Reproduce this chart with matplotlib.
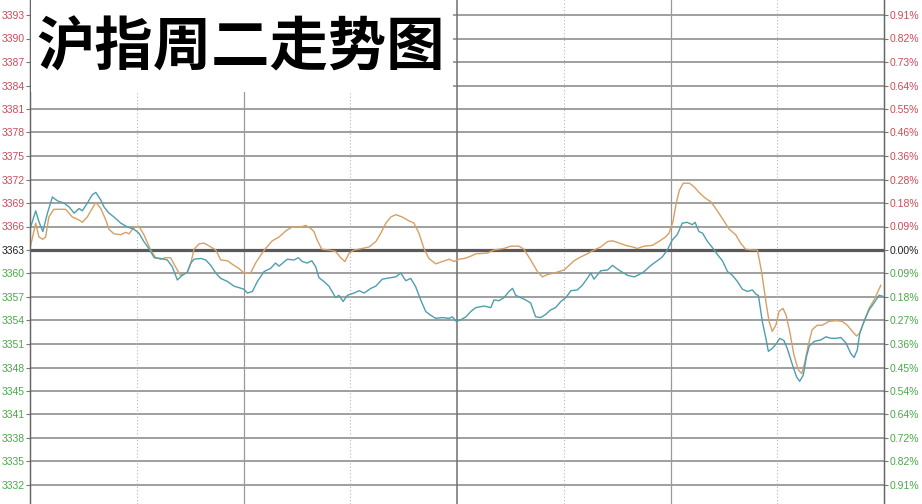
"""
沪指周二分时走势图（指数线 + 均价线）
"""

import numpy as np
import matplotlib
matplotlib.use('Agg')
import matplotlib.pyplot as plt
from matplotlib.patches import Rectangle

# ── data ──────────────────────────────────────────────────────────────────────
BASE = 3363.0          # 昨收
STEP = 3.06            # 每格 ≈ 0.091%

LEFT_LABELS = ['3332', '3335', '3338', '3341', '3345', '3348', '3351', '3354',
               '3357', '3360', '3363', '3366', '3369', '3372', '3375', '3378',
               '3381', '3384', '3387', '3390', '3393']
RIGHT_LABELS = ['0.91%', '0.82%', '0.72%', '0.64%', '0.54%', '0.45%', '0.36%',
                '0.27%', '0.18%', '0.09%', '0.00%', '0.09%', '0.18%', '0.28%',
                '0.36%', '0.46%', '0.55%', '0.64%', '0.73%', '0.82%', '0.91%']

# 指数线（分钟, 点位）
idx_t = [0.2, 1.6, 2.5, 3.6, 4.9, 6.3, 7.7, 9.6, 11.0, 12.4, 13.8, 14.7, 16.1,
         17.5, 18.5, 19.9, 20.8, 22.2, 23.6, 25.5, 27.4, 29.2, 30.6, 32.0,
         33.4, 34.9, 36.7, 38.6, 40.0, 41.4, 42.8, 44.2, 45.2, 46.1, 48.0,
         49.4, 50.8, 52.2, 53.6, 55.5, 57.3, 58.7, 60.1, 61.1, 62.5, 63.9,
         65.8, 67.6, 69.0, 70.0, 72.3, 74.2, 75.4, 76.5, 77.9, 79.2, 80.3,
         81.2, 82.6, 84.0, 85.9, 86.8, 88.0, 89.2, 91.1, 92.5, 93.9, 95.8,
         97.2, 99.0, 101.4, 102.8, 104.2, 105.6, 107.0, 108.4, 109.8, 111.2,
         112.6, 114.0, 115.9, 117.8, 118.7, 119.8, 121.0, 122.5, 123.9, 125.3,
         127.6, 129.5, 130.4, 131.8, 133.2, 134.6, 135.6, 136.5, 137.9, 139.3,
         140.7, 142.1, 143.5, 144.9, 146.3, 147.7, 149.2, 150.6, 152.0, 153.8,
         155.2, 156.6, 157.6, 158.5, 160.4, 162.3, 163.7, 165.1, 166.5, 167.9,
         169.8, 171.2, 172.6, 174.5, 176.3, 177.7, 179.1, 180.5, 181.9, 183.3,
         184.7, 186.1, 186.9, 188.0, 189.0, 190.4, 191.8, 193.2, 194.6, 196.0,
         197.4, 198.8, 200.2, 201.6, 203.0, 204.1, 204.7, 205.8, 206.8, 207.5,
         208.6, 209.6, 210.7, 211.9, 212.8, 214.3, 215.4, 216.3, 217.3, 218.2,
         219.0, 220.4, 222.3, 223.7, 225.1, 226.5, 227.9, 229.3, 230.7, 231.6,
         232.5, 233.2, 234.4, 235.8, 237.2, 238.6, 239.5]
idx_v = [3366.0, 3368.1, 3366.7, 3365.4, 3367.8, 3369.9, 3369.4, 3369.1,
         3368.6, 3367.8, 3368.4, 3368.1, 3369.1, 3370.2, 3370.5, 3369.5,
         3368.6, 3367.8, 3367.3, 3366.5, 3366.0, 3365.7, 3365.2, 3364.1,
         3363.2, 3362.0, 3361.9, 3361.7, 3360.8, 3359.1, 3359.7, 3360.1,
         3361.3, 3361.8, 3361.9, 3361.7, 3361.0, 3360.0, 3359.3, 3358.9,
         3358.3, 3358.1, 3357.9, 3357.4, 3357.6, 3358.9, 3360.2, 3360.6,
         3361.3, 3360.9, 3361.8, 3361.7, 3362.0, 3361.5, 3361.3, 3361.6,
         3360.8, 3359.4, 3358.9, 3358.3, 3356.8, 3357.1, 3356.3, 3357.1,
         3357.4, 3357.7, 3357.4, 3358.0, 3358.3, 3359.2, 3359.4, 3359.5,
         3360.0, 3359.0, 3359.3, 3358.2, 3356.5, 3355.0, 3354.5, 3354.1,
         3354.2, 3354.1, 3354.3, 3353.7, 3353.9, 3354.3, 3355.0, 3355.5,
         3355.7, 3355.5, 3356.5, 3356.4, 3356.8, 3357.6, 3358.0, 3357.1,
         3356.8, 3356.5, 3356.1, 3354.3, 3354.2, 3354.6, 3355.2, 3355.5,
         3356.3, 3356.8, 3357.7, 3357.8, 3358.4, 3359.3, 3360.0, 3359.2,
         3360.3, 3360.4, 3361.0, 3360.5, 3360.1, 3359.7, 3359.5, 3359.8,
         3360.2, 3361.0, 3361.6, 3362.1, 3363.0, 3364.3, 3365.0, 3366.5,
         3366.6, 3366.3, 3366.6, 3365.4, 3365.2, 3364.1, 3363.3, 3362.4,
         3361.6, 3360.2, 3359.7, 3358.9, 3357.9, 3357.6, 3357.8, 3357.2,
         3357.1, 3353.7, 3351.5, 3349.8, 3350.2, 3350.7, 3351.5, 3351.2,
         3350.2, 3348.0, 3346.5, 3345.9, 3346.7, 3349.1, 3350.5, 3351.1,
         3351.3, 3351.7, 3351.5, 3351.5, 3351.6, 3350.9, 3349.5, 3349.0,
         3350.0, 3352.2, 3353.7, 3355.2, 3356.1, 3357.1, 3357.0]

# 均价线（分钟, 点位）
avg_t = [0.2, 1.6, 2.5, 3.6, 4.4, 5.3, 6.7, 10.0, 11.9, 13.8, 14.7, 16.1,
         18.5, 19.9, 21.3, 22.2, 23.6, 25.5, 26.9, 27.8, 28.8, 29.7, 30.6,
         32.0, 33.9, 35.3, 36.7, 38.1, 39.5, 40.9, 42.3, 44.2, 45.2, 46.1,
         47.5, 48.9, 50.8, 52.2, 53.6, 55.5, 57.3, 58.7, 60.1, 62.0, 63.4,
         64.8, 66.2, 68.1, 70.0, 71.9, 73.7, 76.1, 77.5, 78.9, 79.8, 80.7,
         82.0, 84.0, 85.9, 87.3, 88.5, 89.7, 91.1, 93.4, 95.3, 97.2, 98.6,
         100.0, 101.4, 102.8, 104.6, 106.5, 107.9, 109.3, 110.7, 112.1, 114.0,
         115.9, 117.8, 119.2, 120.6, 122.0, 123.4, 125.3, 128.5, 130.4, 133.2,
         135.1, 137.4, 138.8, 140.7, 142.6, 144.0, 145.4, 147.3, 148.7, 150.1,
         151.5, 152.9, 154.8, 156.6, 158.5, 160.4, 162.3, 163.7, 165.6, 167.4,
         169.3, 170.7, 172.6, 174.9, 176.7, 178.6, 179.6, 180.7, 181.6, 182.5,
         183.6, 185.3, 186.7, 188.0, 189.9, 191.3, 192.7, 194.6, 196.5, 198.3,
         199.7, 201.1, 203.0, 204.4, 205.6, 206.8, 207.7, 208.6, 209.6, 210.5,
         211.6, 212.5, 213.5, 214.7, 215.9, 216.9, 217.8, 218.7, 219.8, 221.2,
         222.6, 224.5, 226.5, 228.3, 229.7, 231.1, 232.3, 233.2, 234.4, 235.8,
         237.2, 239.1]
avg_v = [3363.6, 3366.5, 3364.7, 3364.4, 3364.7, 3367.3, 3368.3, 3368.3,
         3367.3, 3366.9, 3366.6, 3367.3, 3369.2, 3368.4, 3366.9, 3365.7,
         3365.1, 3365.0, 3365.3, 3365.1, 3365.7, 3366.0, 3366.1, 3365.0,
         3363.0, 3362.0, 3361.8, 3362.0, 3362.0, 3360.8, 3359.7, 3360.1,
         3361.3, 3363.1, 3363.8, 3363.9, 3363.4, 3363.0, 3361.7, 3361.6,
         3361.0, 3360.6, 3360.0, 3360.0, 3361.3, 3362.3, 3363.2, 3364.2,
         3364.7, 3365.5, 3366.0, 3366.0, 3366.2, 3365.8, 3365.4, 3364.3,
         3363.1, 3363.0, 3362.8, 3362.0, 3361.5, 3362.6, 3363.0, 3363.2,
         3363.4, 3364.1, 3365.2, 3366.5, 3367.3, 3367.6, 3367.3, 3366.8,
         3366.5, 3365.2, 3363.2, 3361.9, 3361.2, 3361.5, 3361.8, 3361.5,
         3361.8, 3361.9, 3362.1, 3362.5, 3362.6, 3363.0, 3363.2, 3363.5,
         3363.5, 3363.1, 3361.7, 3360.2, 3359.5, 3359.8, 3360.0, 3360.2,
         3360.4, 3361.0, 3361.6, 3362.1, 3362.5, 3363.0, 3363.4, 3364.1,
         3364.2, 3363.9, 3363.6, 3363.4, 3363.2, 3363.5, 3363.6, 3364.1,
         3364.7, 3365.2, 3366.7, 3369.1, 3370.8, 3371.7, 3371.7, 3371.2,
         3370.5, 3369.7, 3369.3, 3368.4, 3367.1, 3365.7, 3365.0, 3363.9,
         3363.1, 3363.0, 3363.0, 3360.2, 3356.3, 3353.7, 3352.4, 3353.2,
         3355.0, 3355.4, 3354.5, 3352.4, 3349.3, 3347.4, 3346.9, 3348.5,
         3350.6, 3352.6, 3353.2, 3353.2, 3353.7, 3353.8, 3353.7, 3353.2,
         3352.4, 3351.8, 3352.2, 3353.7, 3355.4, 3356.5, 3358.4]

TITLE = '沪指周二走势图'

# ── styles ────────────────────────────────────────────────────────────────────
C_IDX   = '#4f9eae'
C_AVG   = '#d6a065'
C_UP    = '#cc4a58'
C_DOWN  = '#4aa84a'
C_FLAT  = '#222222'
C_GRID  = '#8a8a8a'

W, H = 922, 504
fig = plt.figure(figsize=(W / 100, H / 100), dpi=100, facecolor='white')
ax = fig.add_axes([30 / W, 0, (884 - 30) / W, 1])
ax2 = ax.twinx()

ticks = BASE + STEP * np.arange(-10, 11)
px_per_unit = 23.5 / STEP
ax.set_xlim(0, 240)
ax.set_ylim(BASE - 254 / px_per_unit, BASE + 250 / px_per_unit)
ax2.set_ylim(ax.get_ylim())

# grid: horizontal
for k, y in zip(range(-10, 11), ticks):
    if k == 0:
        ax.axhline(y, color='#5a5a5a', lw=2.3, zorder=3)
    else:
        ax.axhline(y, color=C_GRID, lw=1.15, zorder=1)

# grid: vertical (每 30 分钟)
for m in (30, 90, 150, 210):
    ax.axvline(m, color='#b5b5b5', lw=0.8, ls=(0, (1, 2)), zorder=1)
for m in (60, 180):
    ax.axvline(m, color='#9a9a9a', lw=0.9, zorder=1)
ax.axvline(120, color='#707070', lw=1.1, zorder=1)

# lines
ax.plot(avg_t, avg_v, color=C_AVG, lw=1.0, zorder=4)
ax.plot(idx_t, idx_v, color=C_IDX, lw=1.0, zorder=5)

# ticks & labels
label_colors = [C_DOWN] * 10 + [C_FLAT] + [C_UP] * 10
for a, labels in ((ax, LEFT_LABELS), (ax2, RIGHT_LABELS)):
    a.set_yticks(ticks)
    a.set_yticklabels(labels, fontsize=7.5, family='Liberation Sans')
    a.tick_params(axis='y', length=3, width=0.8, color='#777777', pad=1)
    for lab, c in zip(a.get_yticklabels(), label_colors):
        lab.set_color(c)
ax.set_xticks([])
ax2.set_xticks([])

for a in (ax, ax2):
    for s in ('top', 'bottom'):
        a.spines[s].set_visible(False)
    for s in ('left', 'right'):
        a.spines[s].set_color('#666666')
        a.spines[s].set_linewidth(0.9)

# title block (white box covering grid)
fig.patches.append(Rectangle((31 / W, 1 - 92 / H), (453 - 31) / W, 92 / H,
                             transform=fig.transFigure, facecolor='white',
                             edgecolor='none', zorder=10))
fig.text(36 / W, 1 - 48 / H, TITLE, fontsize=42, fontweight='heavy',
         family=['Noto Sans CJK SC', 'DejaVu Sans'], color='black',
         ha='left', va='center', zorder=11)

fig.savefig('out.png', dpi=100, facecolor='white')
